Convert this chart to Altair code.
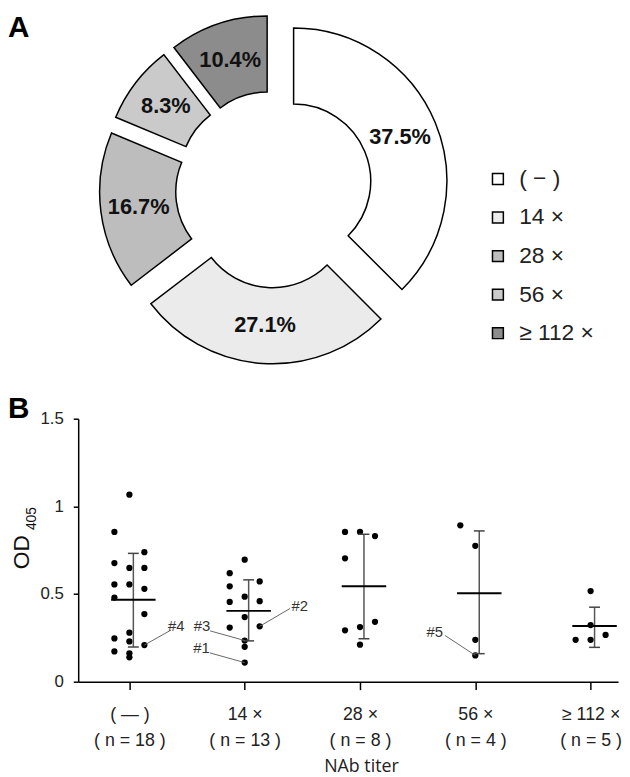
import json
import altair as alt
import pandas as pd

# ---------------- data ----------------
titers = ["( − )", "14 ×", "28 ×", "56 ×", "≥ 112  ×"]
shares = [37.5, 27.1, 16.7, 8.3, 10.4]
fills = ["#ffffff", "#ebebeb", "#bdbdbd", "#cacaca", "#8c8c8c"]

axis_top = ["( — )", "14 ×", "28 ×", "56 ×", "≥ 112 ×"]
axis_n = ["( n = 18 )", "( n = 13 )", "( n = 8 )", "( n = 4 )", "( n = 5 )"]

# OD405 values per group, with the jitter column (-1 left, 0 centre, +1 right)
od_g0 = [0.854, 0.677, 0.555, 0.480, 0.247, 0.173,
         1.067, 0.649, 0.555, 0.280, 0.230, 0.162, 0.139,
         0.739, 0.649, 0.530, 0.386, 0.209]
col_g0 = [-1, -1, -1, -1, -1, -1, 0, 0, 0, 0, 0, 0, 0, 1, 1, 1, 1, 1]
od_g1 = [0.619, 0.544, 0.455, 0.309,
         0.696, 0.485, 0.369, 0.235, 0.199, 0.109,
         0.572, 0.459, 0.316]
col_g1 = [-1, -1, -1, -1, 0, 0, 0, 0, 0, 0, 1, 1, 1]
od_g2 = [0.854, 0.704, 0.293, 0.854, 0.312, 0.211, 0.831, 0.342]
col_g2 = [-1, -1, -1, 0, 0, 0, 1, 1]
od_g3 = [0.892, 0.775, 0.239, 0.150]
col_g3 = [-1, 0, 0, 0]
od_g4 = [0.239, 0.517, 0.323, 0.239, 0.267]
col_g4 = [-1, 0, 0, 0, 1]

means = [0.467, 0.404, 0.544, 0.504, 0.318]
sd_hi = [0.732, 0.581, 0.841, 0.860, 0.425]
sd_lo = [0.198, 0.233, 0.245, 0.160, 0.196]

# annotations: label, group, dot column, dot OD, text dx, text OD, line-end dx, line-end OD
ann_label = ["#4", "#3", "#1", "#2", "#5"]
ann_group = [0, 1, 1, 1, 3]
ann_col = [1, 0, 0, 1, 0]
ann_dot = [0.209, 0.235, 0.109, 0.316, 0.150]
ann_tdx = [0.406, -0.371, -0.375, 0.478, -0.352]
ann_tod = [0.316, 0.316, 0.192, 0.431, 0.282]
ann_ldx = [0.362, -0.300, -0.300, 0.394, -0.263]
ann_lod = [0.295, 0.290, 0.164, 0.418, 0.264]

FONT = "Liberation Sans"
JIT = 0.13
EXPLODE = 21.5
LABEL_R = 138

# ---------------- panel A: exploded donut ----------------
donut_df = pd.DataFrame({"titer": titers, "share": shares, "order": list(range(len(titers)))})

base = (
    alt.Chart(donut_df)
    .transform_window(cum="sum(share)", sort=[alt.SortField("order")])
    .transform_joinaggregate(total="sum(share)")
    .transform_calculate(t1="2*PI*datum.cum/datum.total")
    .transform_calculate(t0="2*PI*(datum.cum-datum.share)/datum.total")
    .transform_calculate(mid="(datum.t0+datum.t1)/2")
    .transform_calculate(ex=f"{EXPLODE}*sin(datum.mid)")
    .transform_calculate(ey=f"{EXPLODE}*cos(datum.mid)")
    .transform_calculate(lx=f"{LABEL_R}*sin(datum.mid)")
    .transform_calculate(ly=f"{LABEL_R}*cos(datum.mid)")
    .transform_calculate(lbl="format(datum.share, '.1f') + '%'")
)

xs_top = alt.Scale(domain=[-198, 348], nice=False, zero=False)
ys_top = alt.Scale(domain=[-182, 178], nice=False, zero=False)

arcs = base.mark_arc(radius=155, radius2=78, stroke="black", strokeWidth=1.5).encode(
    theta=alt.Theta("t0:Q", scale=None, stack=None),
    theta2="t1:Q",
    x=alt.X("ex:Q", scale=xs_top, axis=None),
    y=alt.Y("ey:Q", scale=ys_top, axis=None),
    fill=alt.Fill(
        "titer:N",
        scale=alt.Scale(domain=titers, range=fills),
        legend=alt.Legend(
            title=None, orient="none", legendX=413, legendY=156,
            symbolType="square", symbolSize=121, symbolStrokeColor="black",
            symbolStrokeWidth=1.5, labelFontSize=23, labelFont=FONT,
            labelColor="#222222", rowPadding=15, labelOffset=10, padding=0,
        ),
    ),
)

arc_labels = base.mark_text(font=FONT, fontSize=22, fontWeight="bold", color="#111111").encode(
    x=alt.X("lx:Q", scale=xs_top, axis=None),
    y=alt.Y("ly:Q", scale=ys_top, axis=None),
    text="lbl:N",
)

letter_a = alt.Chart(pd.DataFrame({"t": ["A"]})).mark_text(
    font=FONT, fontSize=30, fontWeight="bold", align="left", baseline="top", color="black"
).encode(x=alt.value(-71), y=alt.value(0), text="t:N")

top = alt.layer(arcs, arc_labels, letter_a).properties(width=546, height=360)

# ---------------- panel B: dot plot ----------------
rows = []
for g, (vals, cols) in enumerate(zip([od_g0, od_g1, od_g2, od_g3, od_g4],
                                     [col_g0, col_g1, col_g2, col_g3, col_g4])):
    for v, c in zip(vals, cols):
        rows.append({"grp": g, "col": c, "od": v})
pts_df = pd.DataFrame(rows)

stats_df = pd.DataFrame({"grp": list(range(5)), "mean": means, "hi": sd_hi, "lo": sd_lo})

ann_df = pd.DataFrame({
    "lab": ann_label, "grp": ann_group, "col": ann_col, "dot": ann_dot,
    "tdx": ann_tdx, "tod": ann_tod, "ldx": ann_ldx, "lod": ann_lod,
})

label_lists = [[a, b] for a, b in zip(axis_top, axis_n)]
label_expr = json.dumps(label_lists, ensure_ascii=False) + "[datum.value]"

xs = alt.Scale(domain=[-0.444, 4.238], nice=False, zero=False)
ys = alt.Scale(domain=[0, 1.5], nice=False)

x_axis = alt.Axis(
    values=[0, 1, 2, 3, 4], labelExpr=label_expr, title="NAb titer", grid=False,
    domainColor="black", domainWidth=1.5, tickColor="black", tickWidth=1.5, tickSize=8,
    labelFont=FONT, labelFontSize=18, labelColor="#222222", labelPadding=16,
    labelLineHeight=27, labelFlush=False, labelOverlap=False,
    titleFont="Open Sans", titleFontSize=18, titleFontWeight="normal", titleColor="#222222",
    titleX=286, titleY=86, titleBaseline="middle", titleAlign="center",
)
y_axis = alt.Axis(
    values=[0, 0.5, 1, 1.5], format="~g", title=None, grid=False,
    domainColor="black", domainWidth=1.5, tickColor="black", tickWidth=1.5, tickSize=5,
    labelFont=FONT, labelFontSize=17, labelColor="#222222", labelPadding=10,
)

points = alt.Chart(pts_df).transform_calculate(
    xp=f"datum.grp + {JIT}*datum.col"
).mark_circle(size=40, color="black", opacity=1).encode(
    x=alt.X("xp:Q", scale=xs, axis=x_axis),
    y=alt.Y("od:Q", scale=ys, axis=y_axis),
)

sd_rule = alt.Chart(stats_df).mark_rule(color="#555555", strokeWidth=1.5, xOffset=4).encode(
    x=alt.X("grp:Q", scale=xs), y=alt.Y("lo:Q", scale=ys), y2="hi:Q"
)
cap_hi = alt.Chart(stats_df).mark_tick(
    orient="horizontal", size=11, thickness=1.5, color="#444444", opacity=1, xOffset=4
).encode(x=alt.X("grp:Q", scale=xs), y=alt.Y("hi:Q", scale=ys))
cap_lo = alt.Chart(stats_df).mark_tick(
    orient="horizontal", size=11, thickness=1.5, color="#444444", opacity=1, xOffset=4
).encode(x=alt.X("grp:Q", scale=xs), y=alt.Y("lo:Q", scale=ys))
mean_tick = alt.Chart(stats_df).mark_tick(
    orient="horizontal", size=45, thickness=2, color="black", opacity=1, xOffset=4
).encode(x=alt.X("grp:Q", scale=xs), y=alt.Y("mean:Q", scale=ys))

ann_base = alt.Chart(ann_df).transform_calculate(
    dx=f"datum.grp + {JIT}*datum.col",
    lx="datum.grp + datum.ldx",
    tx="datum.grp + datum.tdx",
)
ann_lines = ann_base.mark_rule(color="#666666", strokeWidth=1).encode(
    x=alt.X("dx:Q", scale=xs), y=alt.Y("dot:Q", scale=ys),
    x2="lx:Q", y2="lod:Q",
)
ann_text = ann_base.mark_text(font=FONT, fontSize=15, color="#333333", align="center", baseline="middle").encode(
    x=alt.X("tx:Q", scale=xs), y=alt.Y("tod:Q", scale=ys), text="lab:N"
)

od_main = alt.Chart(pd.DataFrame({"t": ["OD"]})).mark_text(
    font=FONT, fontSize=23, angle=270, align="center", baseline="middle", color="#111111"
).encode(x=alt.value(-57), y=alt.value(135), text="t:N")
od_sub = alt.Chart(pd.DataFrame({"t": ["405"]})).mark_text(
    font=FONT, fontSize=14, angle=270, align="center", baseline="middle", color="#111111"
).encode(x=alt.value(-47), y=alt.value(101), text="t:N")
letter_b = alt.Chart(pd.DataFrame({"t": ["B"]})).mark_text(
    font=FONT, fontSize=30, fontWeight="bold", align="left", baseline="top", color="black"
).encode(x=alt.value(-71), y=alt.value(-25), text="t:N")

bottom = alt.layer(
    points, sd_rule, cap_hi, cap_lo, mean_tick, ann_lines, ann_text, od_main, od_sub, letter_b
).properties(width=546, height=266)

chart = (
    alt.vconcat(top, bottom, spacing=25)
    .properties(padding=0)
    .configure_view(stroke=None)
)

chart.save("out.html", embed_options={"renderer": "svg", "actions": False})
